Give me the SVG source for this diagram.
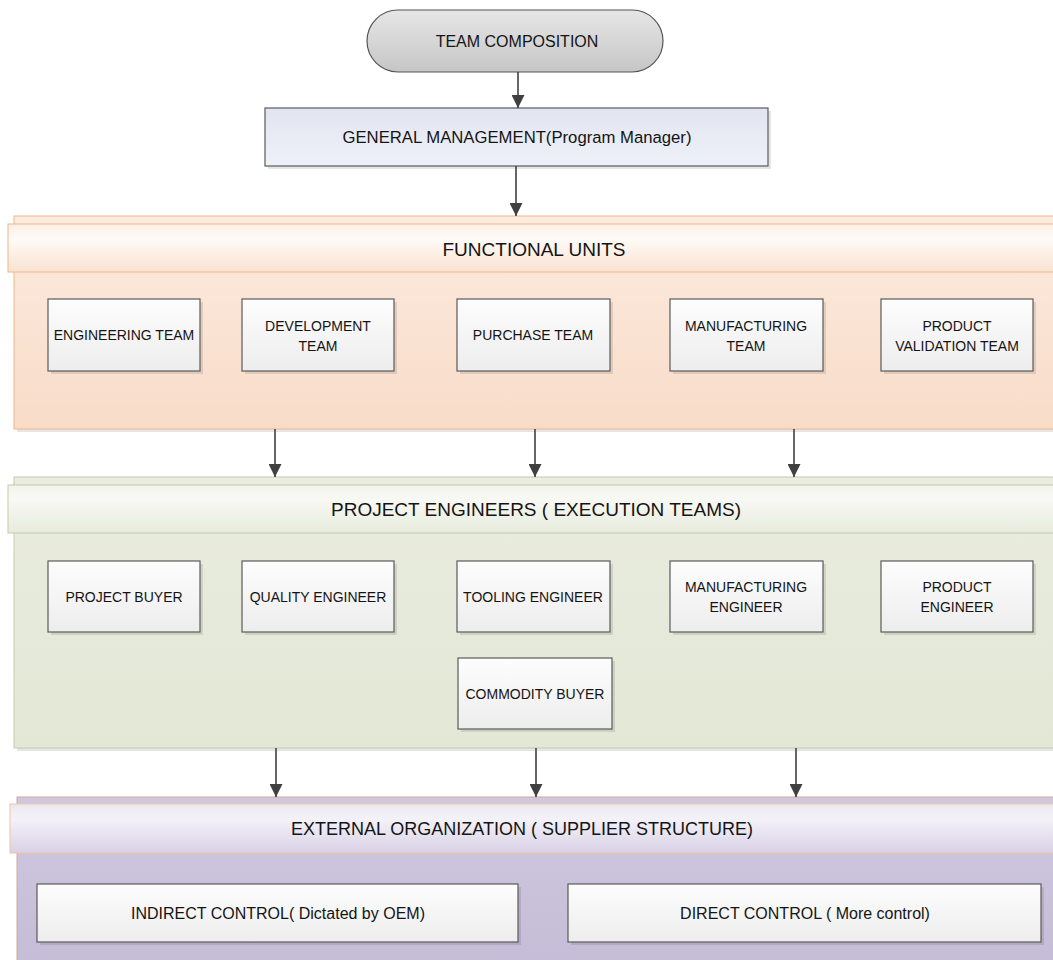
<svg xmlns="http://www.w3.org/2000/svg" width="1053" height="960" viewBox="0 0 1053 960">
  <defs>
    <linearGradient id="gBox" x1="0" y1="0" x2="0" y2="1">
      <stop offset="0" stop-color="#fdfdfd"/>
      <stop offset="1" stop-color="#ededed"/>
    </linearGradient>
    <linearGradient id="gTerm" x1="0" y1="0" x2="0" y2="1">
      <stop offset="0" stop-color="#e6e6e6"/>
      <stop offset="1" stop-color="#c6c6c6"/>
    </linearGradient>
    <linearGradient id="gMgmt" x1="0" y1="0" x2="0" y2="1">
      <stop offset="0" stop-color="#e2e5f1"/>
      <stop offset="1" stop-color="#eff1f8"/>
    </linearGradient>
    <linearGradient id="gFuBody" x1="0" y1="0" x2="0" y2="1">
      <stop offset="0" stop-color="#fcebdf"/>
      <stop offset="1" stop-color="#f8dcc8"/>
    </linearGradient>
    <linearGradient id="gFuHead" x1="0" y1="0" x2="0" y2="1">
      <stop offset="0" stop-color="#fcefe5"/>
      <stop offset="0.3" stop-color="#fefbf8"/>
      <stop offset="1" stop-color="#fae2d0"/>
    </linearGradient>
    <linearGradient id="gPeBody" x1="0" y1="0" x2="0" y2="1">
      <stop offset="0" stop-color="#eaeddf"/>
      <stop offset="1" stop-color="#e3e7d5"/>
    </linearGradient>
    <linearGradient id="gPeHead" x1="0" y1="0" x2="0" y2="1">
      <stop offset="0" stop-color="#f2f4ec"/>
      <stop offset="0.3" stop-color="#f8f9f4"/>
      <stop offset="1" stop-color="#e7ebdc"/>
    </linearGradient>
    <linearGradient id="gExBody" x1="0" y1="0" x2="0" y2="1">
      <stop offset="0" stop-color="#d0c8df"/>
      <stop offset="1" stop-color="#c5bcd7"/>
    </linearGradient>
    <linearGradient id="gExHead" x1="0" y1="0" x2="0" y2="1">
      <stop offset="0" stop-color="#ebe8f2"/>
      <stop offset="0.3" stop-color="#f4f2f8"/>
      <stop offset="1" stop-color="#d8d1e6"/>
    </linearGradient>
    <marker id="arrow" markerUnits="userSpaceOnUse" markerWidth="13" markerHeight="13" viewBox="0 0 12 12" refX="12" refY="6" orient="auto">
      <path d="M0,0 L12,6 L0,12 z" fill="#404040"/>
    </marker>
  </defs>
  <style>
    text { font-family: "Liberation Sans", Arial, sans-serif; fill: #141414; text-anchor: middle; }
    .box { fill: url(#gBox); stroke: #5a5a5a; stroke-width: 1.2; }
    .shadow { fill: #000; fill-opacity: 0.1; }
    .lbl { font-size: 14px; }
    .title { font-size: 19px; }
    .mid { font-size: 16px; }
    .conn { stroke: #404040; stroke-width: 1.6; fill: none; marker-end: url(#arrow); }
  </style>

  <rect width="1053" height="960" fill="#ffffff"/>

  <!-- Section containers -->
  <g id="functional-units">
    <rect class="shadow" x="17" y="219" width="1040" height="213"/>
    <rect x="14" y="216" width="1040" height="213" fill="url(#gFuBody)" stroke="#f0b68c" stroke-width="1"/>
    <rect x="8" y="224" width="1046" height="48" fill="url(#gFuHead)" stroke="#f0b68c" stroke-width="1"/>
    <text class="title" x="534" y="256">FUNCTIONAL UNITS</text>
  </g>

  <g id="project-engineers">
    <rect class="shadow" x="17" y="480" width="1040" height="271"/>
    <rect x="14" y="477" width="1040" height="271" fill="url(#gPeBody)" stroke="#c3caae" stroke-width="1"/>
    <rect x="8" y="485" width="1046" height="48" fill="url(#gPeHead)" stroke="#c3caae" stroke-width="1"/>
    <text class="title" x="536" y="516">PROJECT ENGINEERS ( EXECUTION TEAMS)</text>
  </g>

  <g id="external-organization">
    <rect x="17" y="797" width="1040" height="170" fill="url(#gExBody)" stroke="#d6a898" stroke-width="1"/>
    <rect x="10" y="804" width="1046" height="49" fill="url(#gExHead)" stroke="#efc3a4" stroke-width="1"/>
    <text x="522" y="835" style="font-size:18px">EXTERNAL ORGANIZATION ( SUPPLIER STRUCTURE)</text>
  </g>

  <!-- Top of the hierarchy -->
  <g id="team-composition">
    <rect x="367" y="10" width="296" height="62" rx="31" ry="31" fill="url(#gTerm)" stroke="#555" stroke-width="1.2"/>
    <text class="mid" x="517" y="47">TEAM COMPOSITION</text>
  </g>

  <g id="general-management">
    <rect class="shadow" x="268" y="111" width="503" height="58"/>
    <rect x="265" y="108" width="503" height="58" fill="url(#gMgmt)" stroke="#5a5a5a" stroke-width="1.2"/>
    <text x="517" y="143" style="font-size:16.7px">GENERAL MANAGEMENT(Program Manager)</text>
  </g>

  <!-- Functional unit teams -->
  <g id="engineering-team">
    <rect class="shadow" x="51" y="302" width="152" height="72"/>
    <rect class="box" x="48" y="299" width="152" height="72"/>
    <text class="lbl" x="124" y="340">ENGINEERING TEAM</text>
  </g>
  <g id="development-team">
    <rect class="shadow" x="245" y="302" width="152" height="72"/>
    <rect class="box" x="242" y="299" width="152" height="72"/>
    <text class="lbl" x="318" y="331">DEVELOPMENT</text>
    <text class="lbl" x="318" y="351">TEAM</text>
  </g>
  <g id="purchase-team">
    <rect class="shadow" x="460" y="302" width="153" height="72"/>
    <rect class="box" x="457" y="299" width="153" height="72"/>
    <text class="lbl" x="533" y="340">PURCHASE TEAM</text>
  </g>
  <g id="manufacturing-team">
    <rect class="shadow" x="673" y="302" width="153" height="72"/>
    <rect class="box" x="670" y="299" width="153" height="72"/>
    <text class="lbl" x="746" y="331">MANUFACTURING</text>
    <text class="lbl" x="746" y="351">TEAM</text>
  </g>
  <g id="product-validation-team">
    <rect class="shadow" x="884" y="302" width="152" height="72"/>
    <rect class="box" x="881" y="299" width="152" height="72"/>
    <text class="lbl" x="957" y="331">PRODUCT</text>
    <text class="lbl" x="957" y="351">VALIDATION TEAM</text>
  </g>

  <!-- Execution roles -->
  <g id="project-buyer">
    <rect class="shadow" x="51" y="564" width="152" height="71"/>
    <rect class="box" x="48" y="561" width="152" height="71"/>
    <text class="lbl" x="124" y="602">PROJECT BUYER</text>
  </g>
  <g id="quality-engineer">
    <rect class="shadow" x="245" y="564" width="152" height="71"/>
    <rect class="box" x="242" y="561" width="152" height="71"/>
    <text class="lbl" x="318" y="602">QUALITY ENGINEER</text>
  </g>
  <g id="tooling-engineer">
    <rect class="shadow" x="460" y="564" width="153" height="71"/>
    <rect class="box" x="457" y="561" width="153" height="71"/>
    <text class="lbl" x="533" y="602">TOOLING ENGINEER</text>
  </g>
  <g id="manufacturing-engineer">
    <rect class="shadow" x="673" y="564" width="153" height="71"/>
    <rect class="box" x="670" y="561" width="153" height="71"/>
    <text class="lbl" x="746" y="592">MANUFACTURING</text>
    <text class="lbl" x="746" y="612">ENGINEER</text>
  </g>
  <g id="product-engineer">
    <rect class="shadow" x="884" y="564" width="152" height="71"/>
    <rect class="box" x="881" y="561" width="152" height="71"/>
    <text class="lbl" x="957" y="592">PRODUCT</text>
    <text class="lbl" x="957" y="612">ENGINEER</text>
  </g>
  <g id="commodity-buyer">
    <rect class="shadow" x="461" y="661" width="154" height="71"/>
    <rect class="box" x="458" y="658" width="154" height="71"/>
    <text class="lbl" x="535" y="699">COMMODITY BUYER</text>
  </g>

  <!-- Supplier control -->
  <g id="indirect-control">
    <rect class="shadow" x="40" y="887" width="481" height="58"/>
    <rect class="box" x="37" y="884" width="481" height="58"/>
    <text class="mid" x="278" y="919">INDIRECT CONTROL( Dictated by OEM)</text>
  </g>
  <g id="direct-control">
    <rect class="shadow" x="571" y="887" width="473" height="58"/>
    <rect class="box" x="568" y="884" width="473" height="58"/>
    <text class="mid" x="805" y="919">DIRECT CONTROL ( More control)</text>
  </g>

  <!-- Connectors -->
  <g id="connectors">
    <line class="conn" x1="518" y1="72" x2="518" y2="108"/>
    <line class="conn" x1="516" y1="166" x2="516" y2="216"/>
    <line class="conn" x1="275" y1="429" x2="275" y2="477"/>
    <line class="conn" x1="535" y1="429" x2="535" y2="477"/>
    <line class="conn" x1="794" y1="429" x2="794" y2="477"/>
    <line class="conn" x1="276" y1="748" x2="276" y2="797"/>
    <line class="conn" x1="536" y1="748" x2="536" y2="797"/>
    <line class="conn" x1="796" y1="748" x2="796" y2="797"/>
  </g>
</svg>
